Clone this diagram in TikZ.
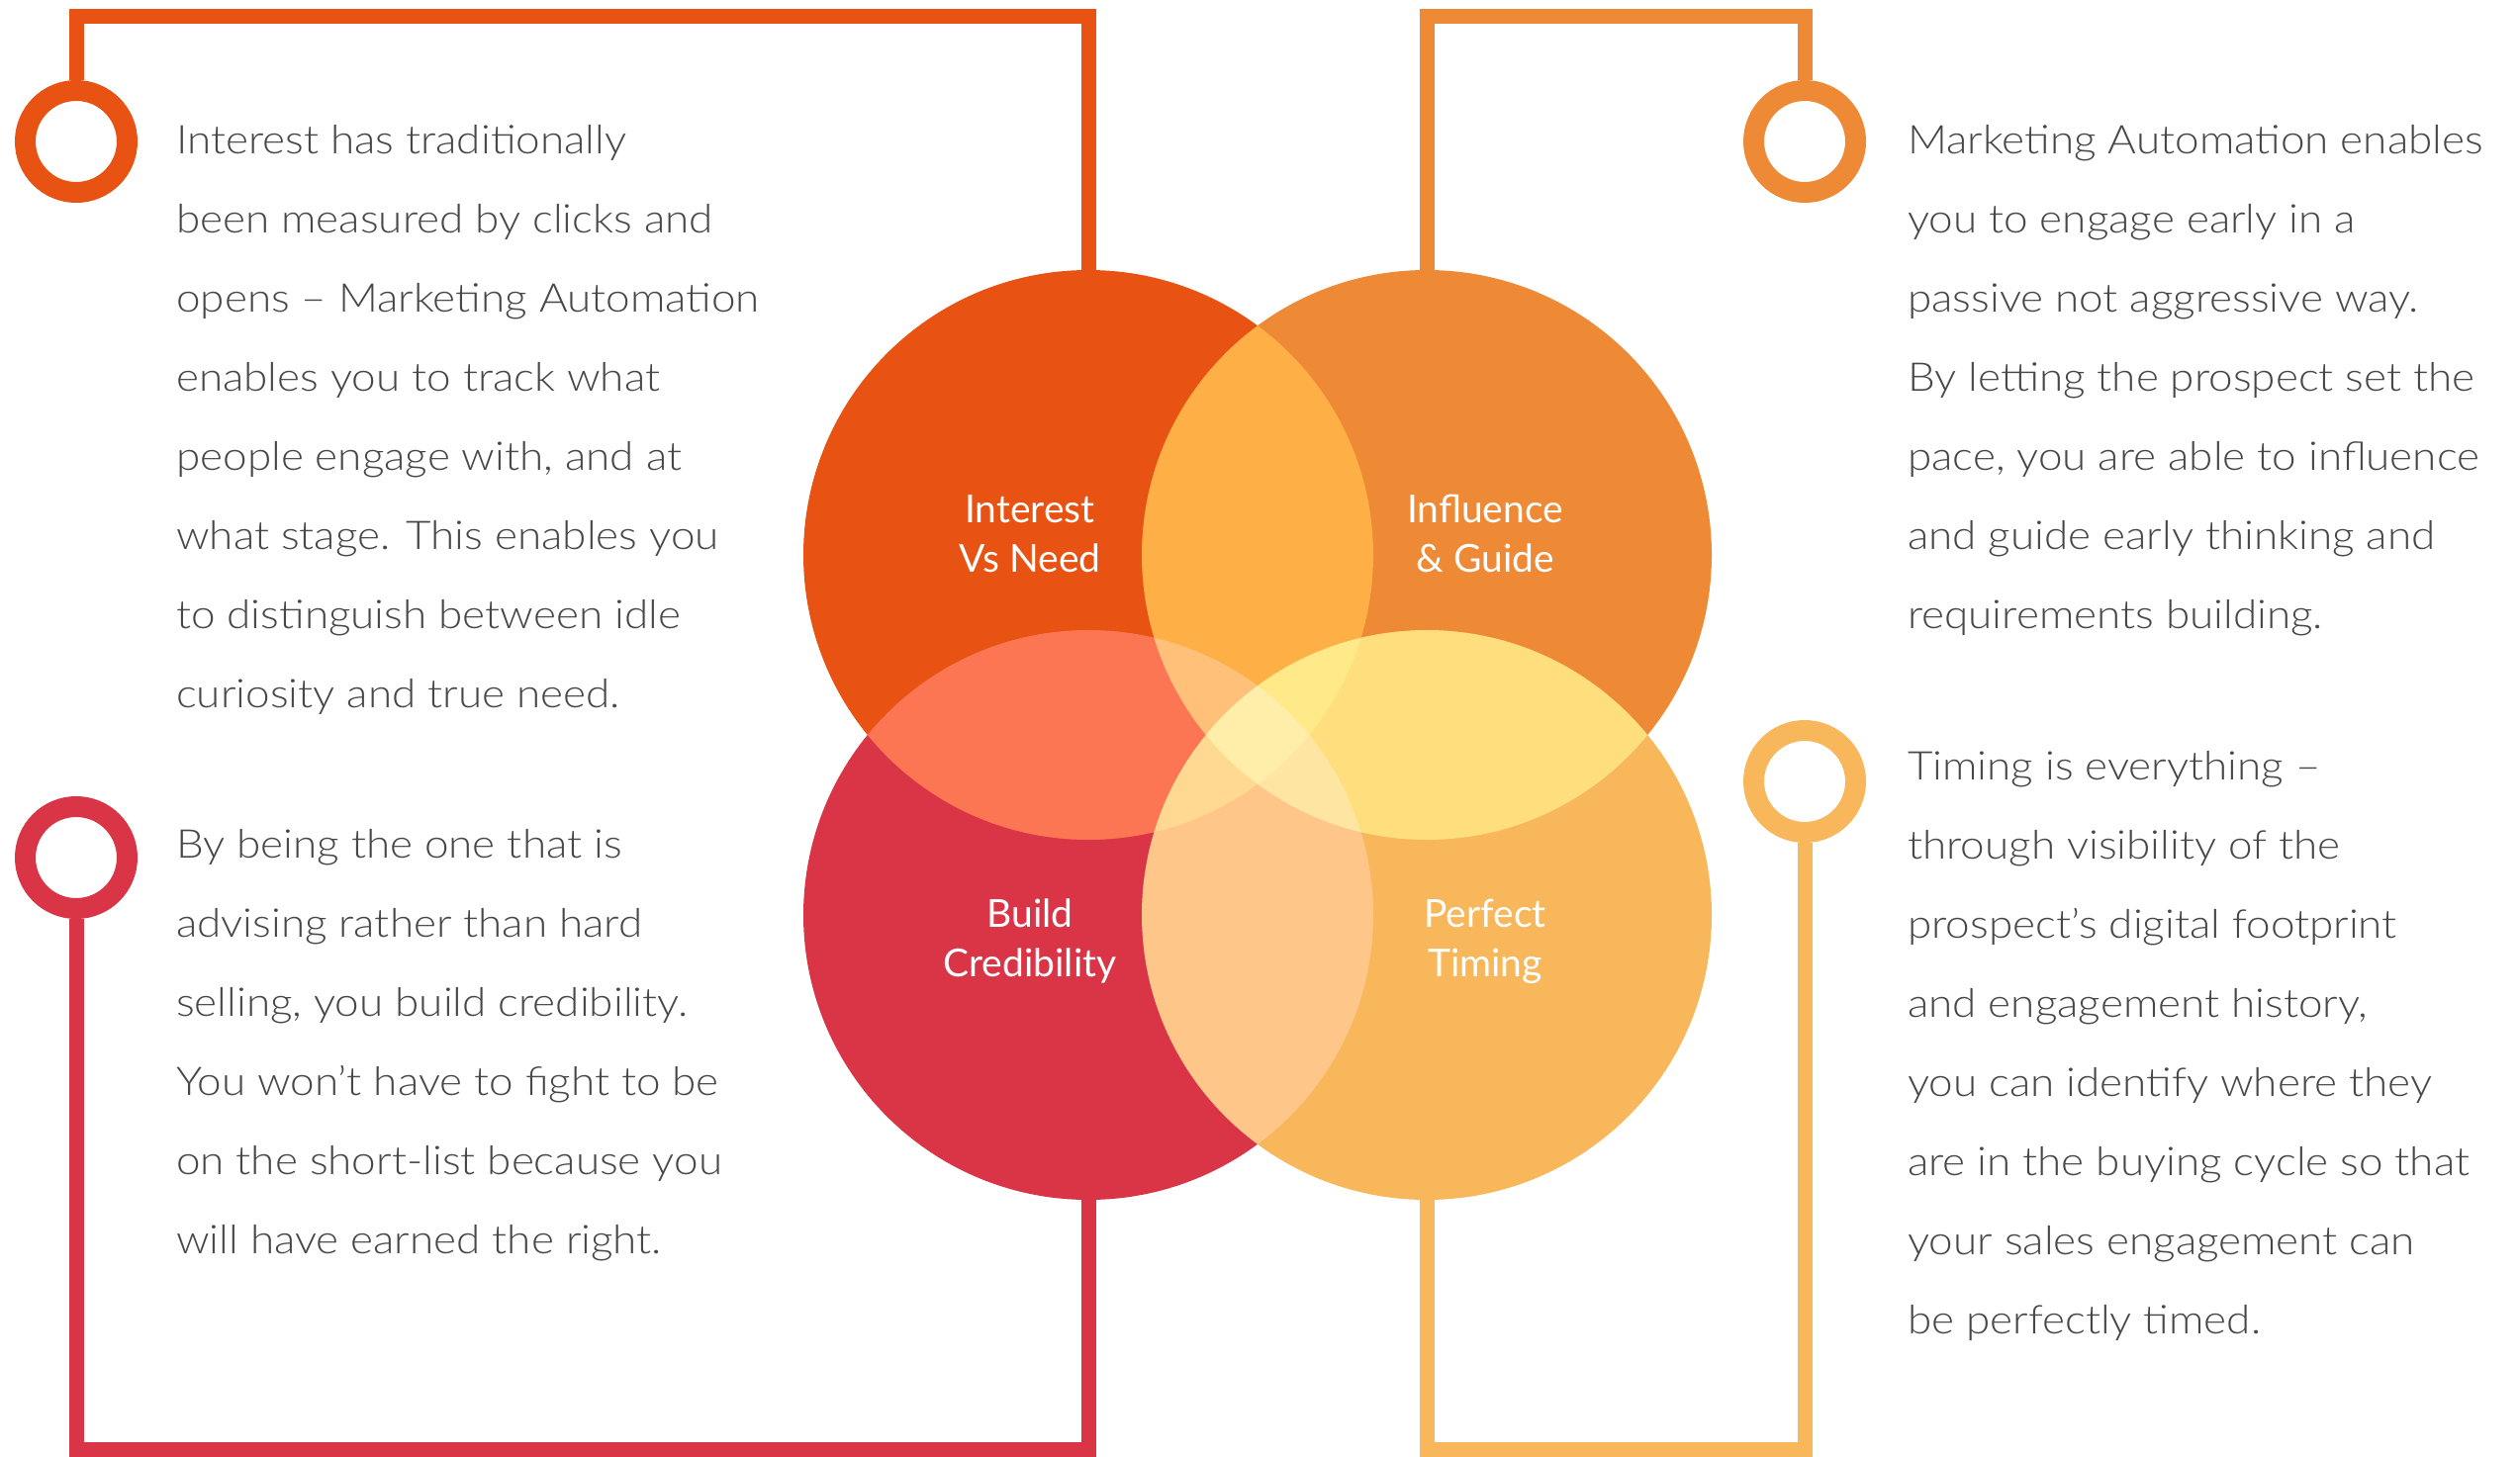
\documentclass[tikz,border=0pt]{standalone}
\usepackage{fontspec}
\IfFontExistsTF{Lato Light}
  {\setmainfont{Lato Light}[FakeStretch=1.1]}
  {\setmainfont{Lato}[FakeStretch=1.1]}
\newfontfamily\labelfont{Lato}

\definecolor{cA}{HTML}{E85212}
\definecolor{cB}{HTML}{EE8936}
\definecolor{cC}{HTML}{DA3546}
\definecolor{cD}{HTML}{F8B75B}
\definecolor{bodygray}{HTML}{474747}

\tikzset{
  rail/.style={line width=15pt},
  ring/.style={circle, draw, line width=21pt, minimum size=103pt, inner sep=0pt},
  % base of a multi-line node sits on its last line
  para/.style={anchor=base west, align=left, text=bodygray, inner sep=0pt,
    font=\fontsize{40}{80}\selectfont},
  lbl/.style={anchor=base, align=center, text=white, inner sep=0pt,
    font=\labelfont\fontsize{39}{50}\selectfont},
  venn/.style={blend mode=screen}
}

\begin{document}
\begin{tikzpicture}[x=1pt, y=-1pt]
        \useasboundingbox (0,0) rectangle (2547,1472);

        % Centres of the four circles and the two rail levels
        \coordinate (venA) at (1100,561);
        \coordinate (venB) at (1442,561);
        \coordinate (venC) at (1100,925);
        \coordinate (venD) at (1442,925);
        \coordinate (top) at (0,17);
        \coordinate (bot) at (0,1465);

        % Rings beside the paragraphs
        \node[ring, draw=cA] (ringA) at (77,143) {};
        \node[ring, draw=cB] (ringB) at (1824,143) {};
        \node[ring, draw=cC] (ringC) at (77,867) {};
        \node[ring, draw=cD] (ringD) at (1824,790) {};

        % Rails from the rings to the circles
        \draw[rail, cA] (ringA.north) |- (venA |- top) -- (venA);
        \draw[rail, cB] (venB) -- (venB |- top) -| (ringB.north);
        \draw[rail, cC] (ringC.south) |- (venC |- bot) -- (venC);
        \draw[rail, cD] (venD) -- (venD |- bot) -| (ringD.south);

        % Venn circles, screened over each other
        \begin{scope}[transparency group=isolated]
            \fill[cA, venn] (venA) circle (288);
            \fill[cB, venn] (venB) circle (288);
            \fill[cC, venn] (venC) circle (288);
            \fill[cD, venn] (venD) circle (288);
        \end{scope}

        % Circle labels
        \node[lbl] (labA) at (1041,578) {Interest\\Vs Need};
        \node[lbl] (labB) at (1501,578) {Influence\\\& Guide};
        \node[lbl] (labC) at (1041,987) {Build\\Credibility};
        \node[lbl] (labD) at (1501,987) {Perfect\\Timing};

        % Paragraphs
        \node[para] (textA) at (178,715) {Interest has traditionally\\
            been measured by clicks and\\
            opens – Marketing Automation\\
            enables you to track what\\
            people engage with, and at\\
            what stage. This enables you\\
            to distinguish between idle\\
            curiosity and true need.};
        \node[para] (textB) at (1928,635) {Marketing Automation enables\\
            you to engage early in a\\
            passive not aggressive way.\\
            By letting the prospect set the\\
            pace, you are able to influence\\
            and guide early thinking and\\
            requirements building.};
        \node[para] (textC) at (178,1267) {By being the one that is\\
            advising rather than hard\\
            selling, you build credibility.\\
            You won’t have to fight to be\\
            on the short-list because you\\
            will have earned the right.};
        \node[para] (textD) at (1928,1348) {Timing is everything –\\
            through visibility of the\\
            prospect’s digital footprint\\
            and engagement history,\\
            you can identify where they\\
            are in the buying cycle so that\\
            your sales engagement can\\
            be perfectly timed.};
    \end{tikzpicture}
\end{document}
